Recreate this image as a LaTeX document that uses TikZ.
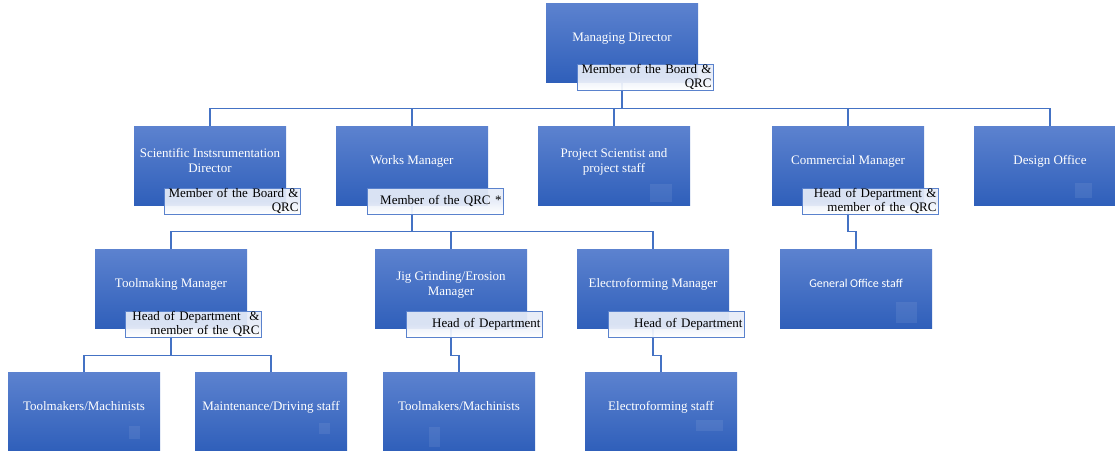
\documentclass[tikz,border=0pt]{standalone}
\usepackage{fontspec}
\setmainfont{Liberation Serif}
\newfontfamily\officefont{Carlito}
\definecolor{boxtop}{RGB}{92,130,207}
\definecolor{boxbottom}{RGB}{47,95,186}
\definecolor{linkblue}{RGB}{68,114,196}
\definecolor{tagfill}{RGB}{230,236,248}
\definecolor{tagline}{RGB}{90,130,205}

\begin{document}
\begin{tikzpicture}[x=1pt, y=-1pt,
		box_style/.style={rectangle,minimum width=152pt,minimum height=79pt,inner sep=2pt,top color=boxtop,bottom color=boxbottom,text=white,align=center,font=\fontsize{13}{15}\selectfont,text depth=12pt},
		tag_style/.style={rectangle,draw=tagline,line width=1pt,top color=tagfill,bottom color=white,middle color=tagfill,fill opacity=0.93,text opacity=1,minimum width=136pt,minimum height=26pt,inner xsep=1pt,inner ysep=0pt,text width=133pt,align=right,text=black,font=\fontsize{13}{14}\selectfont},
		patch_style/.style={fill=white,fill opacity=0.08},
		edge_style/.style={draw=linkblue,line width=1.2pt}]

	\useasboundingbox (0,0) rectangle (1115,450);

	\node[box_style] (n0) at (622,43)  {Managing Director};
	\node[box_style] (n1) at (210,166) {Scientific Instsrumentation\\Director};
	\node[box_style] (n2) at (412,166) {Works Manager};
	\node[box_style] (n3) at (614,166) {Project Scientist and\\project staff};
	\node[box_style] (n4) at (848,166) {Commercial Manager};
	\node[box_style] (n5) at (1050,166) {Design Office};
	\node[box_style] (n6) at (171,289) {Toolmaking Manager};
	\node[box_style] (n7) at (451,289) {Jig Grinding/Erosion\\Manager};
	\node[box_style] (n8) at (653,289) {Electroforming Manager};
	\node[box_style,font=\officefont\fontsize{12}{14}\selectfont] (n9) at (856,289) {General Office staff};
	\node[box_style] (n10) at (84,412) {Toolmakers/Machinists};
	\node[box_style] (n11) at (271,412) {Maintenance/Driving staff};
	\node[box_style] (n12) at (459,412) {Toolmakers/Machinists};
	\node[box_style] (n13) at (661,412) {Electroforming staff};

	\fill[patch_style] (650,184) rectangle (672,202);
	\fill[patch_style] (1075,183) rectangle (1092,198);
	\fill[patch_style] (896,302) rectangle (917,323);
	\fill[patch_style] (129,426) rectangle (140,439);
	\fill[patch_style] (319,423) rectangle (330,434);
	\fill[patch_style] (429,427) rectangle (440,447);
	\fill[patch_style] (696,420) rectangle (723,431);

	\draw[edge_style] (n0.south) -- ++(0,26) -| (n1.north);
	\draw[edge_style] (n0.south) -- ++(0,26) -| (n2.north);
	\draw[edge_style] (n0.south) -- ++(0,26) -| (n3.north);
	\draw[edge_style] (n0.south) -- ++(0,26) -| (n4.north);
	\draw[edge_style] (n0.south) -- ++(0,26) -| (n5.north);
	\draw[edge_style] (n2.south) -- ++(0,26) -| (n6.north);
	\draw[edge_style] (n2.south) -- ++(0,26) -| (n7.north);
	\draw[edge_style] (n2.south) -- ++(0,26) -| (n8.north);
	\draw[edge_style] (n4.south) -- ++(0,26) -| (n9.north);
	\draw[edge_style] (n6.south) -- ++(0,27) -| (n10.north);
	\draw[edge_style] (n6.south) -- ++(0,27) -| (n11.north);
	\draw[edge_style] (n7.south) -- ++(0,27) -| (n12.north);
	\draw[edge_style] (n8.south) -- ++(0,27) -| (n13.north);

	\node[tag_style] (t0) at (645,77)  {Member of the Board \&\\QRC};
	\node[tag_style] (t1) at (232,201) {Member of the Board \&\\QRC};
	\node[tag_style] (t2) at (435,201) {Member of the QRC *};
	\node[tag_style] (t4) at (870,201) {Head of Department \&\\member of the QRC};
	\node[tag_style] (t6) at (193,324) {Head of Department~~\&\\member of the QRC};
	\node[tag_style] (t7) at (474,324) {Head of Department};
	\node[tag_style] (t8) at (676,324) {Head of Department};
\end{tikzpicture}
\end{document}
